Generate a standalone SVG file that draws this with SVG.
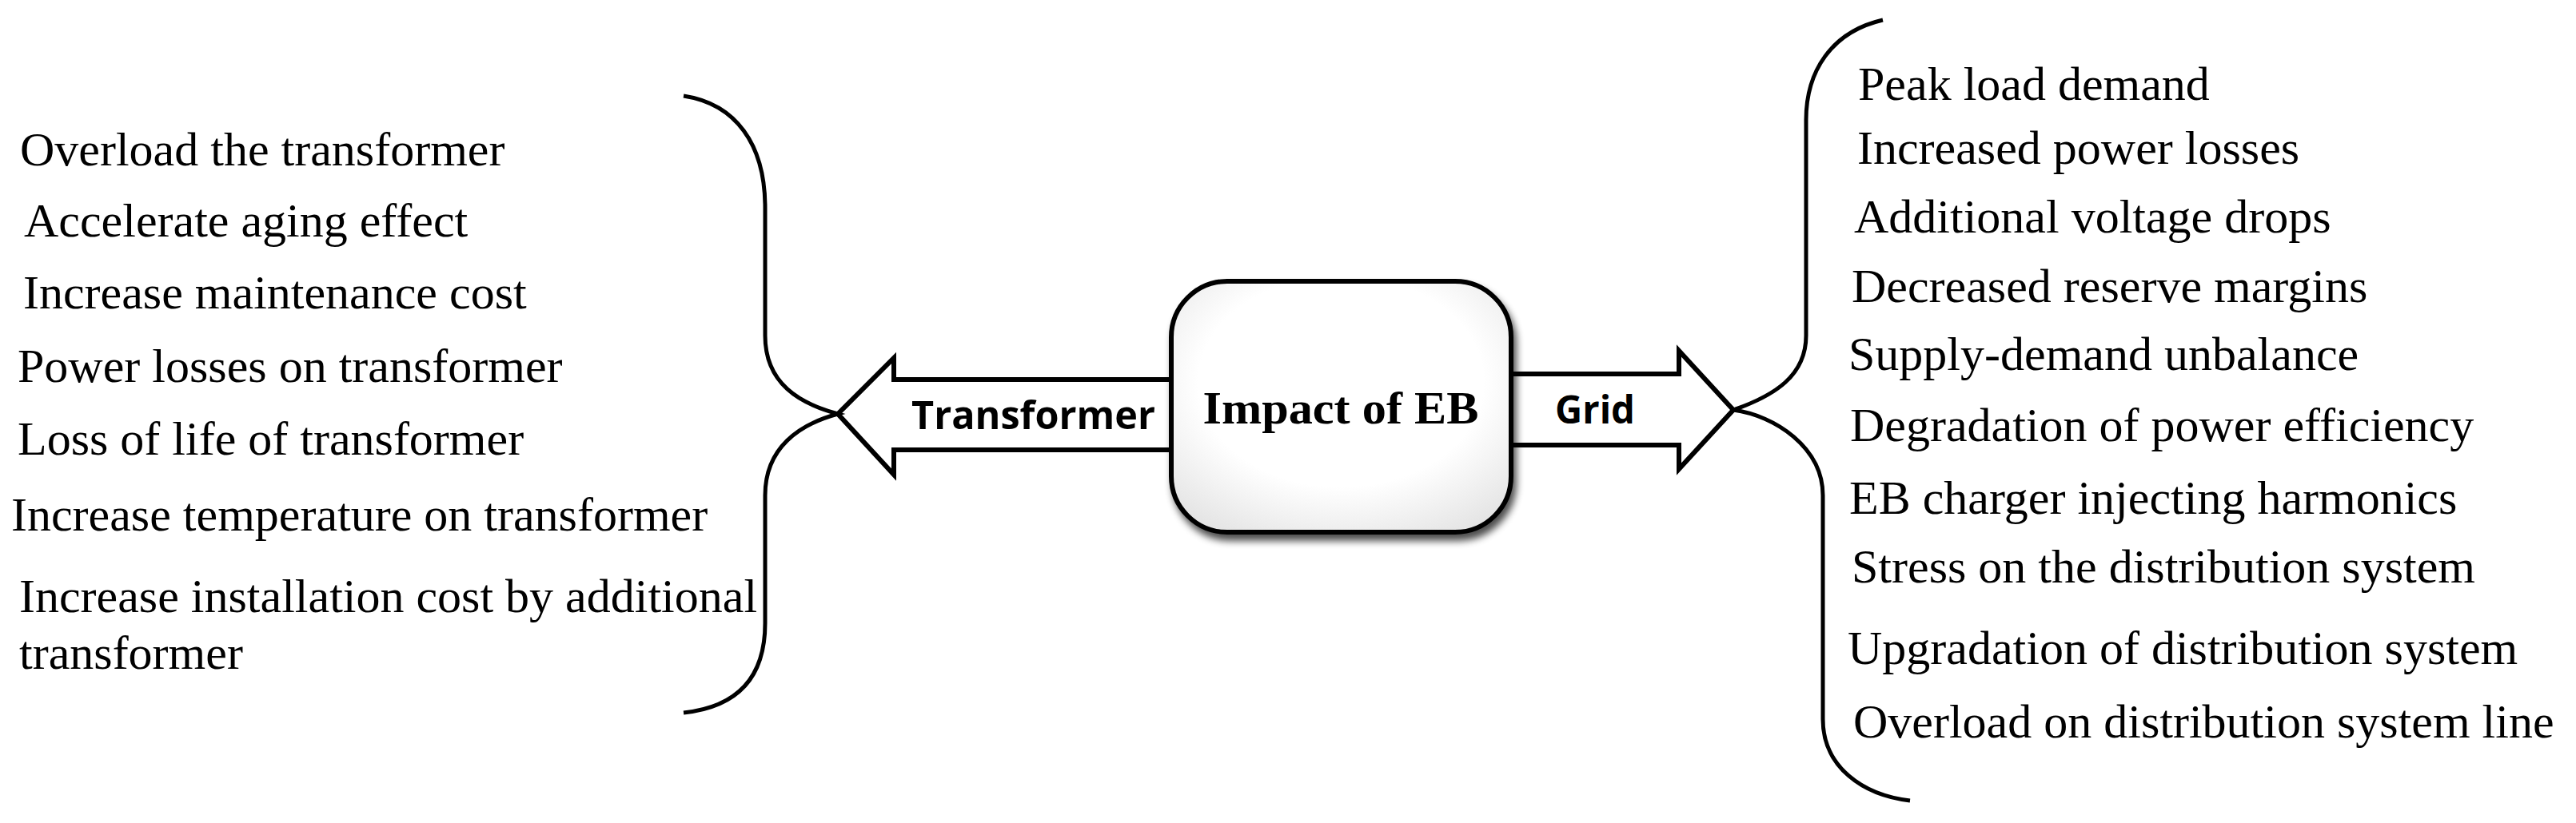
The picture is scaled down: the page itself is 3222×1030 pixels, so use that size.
<svg xmlns="http://www.w3.org/2000/svg" width="3222" height="1030" viewBox="0 0 3222 1030">
<style>
.t{font-family:"Liberation Serif",serif;fill:#000}
.l{font-size:60px}
.r{font-size:60px}
.ln{fill:none;stroke:#000;stroke-width:5}
.ar{fill:#fff;stroke:#000;stroke-width:6;stroke-linejoin:miter}
.lb{font-family:"Open Sans","Liberation Sans",sans-serif;font-weight:bold;font-size:48px}
</style>
<defs>
<filter id="sh" x="-10%" y="-10%" width="120%" height="125%">
<feGaussianBlur in="SourceAlpha" stdDeviation="5"/>
<feOffset dx="4" dy="8"/>
<feComponentTransfer><feFuncA type="linear" slope="0.7"/></feComponentTransfer>
<feMerge><feMergeNode/><feMergeNode in="SourceGraphic"/></feMerge>
</filter>
<radialGradient id="g" cx="50%" cy="40%" r="70%"><stop offset="0.6" stop-color="#fff"/><stop offset="1" stop-color="#e4e4e4"/></radialGradient>
</defs>
<g id="connectors">
<polygon class="ar" points="1470,475 1118,475 1118,448 1048,518 1118,594 1118,563 1470,563"/>
<polygon class="ar" points="1880,468 2100,468 2100,439 2168,513 2100,587 2100,557 1880,557"/>
<text class="lb" x="1140" y="537" textLength="305" lengthAdjust="spacingAndGlyphs">Transformer</text>
<text class="lb" x="1945" y="530" textLength="100" lengthAdjust="spacingAndGlyphs">Grid</text>
</g>
<g id="center">
<rect x="1465" y="352" width="425" height="314" rx="70" fill="url(#g)" stroke="#000" stroke-width="6" filter="url(#sh)"/>
<text class="t" x="1677" y="530" text-anchor="middle" font-weight="bold" font-size="56" textLength="345" lengthAdjust="spacingAndGlyphs">Impact of EB</text>
</g>
<g id="left-brace">
<path class="ln" d="M855,120 C920,130 957,180 957,260 L957,420 C957,480 1000,505 1048,518 C1000,531 957,560 957,620 L957,780 C957,850 920,885 855,892"/>
</g>
<g id="right-brace">
<path class="ln" d="M2355,25 C2290,40 2259,90 2259,150 L2259,420 C2259,470 2220,495 2168,513 C2220,520 2280,560 2280,620 L2280,900 C2280,960 2330,995 2389,1002"/>
</g>
<g id="transformer-items">
<text class="t l" x="25" y="207">Overload the transformer</text>
<text class="t l" x="30" y="296">Accelerate aging effect</text>
<text class="t l" x="29" y="386">Increase maintenance cost</text>
<text class="t l" x="22" y="478">Power losses on transformer</text>
<text class="t l" x="22" y="569">Loss of life of transformer</text>
<text class="t l" x="14" y="664">Increase temperature on transformer</text>
<text class="t l" x="24" y="766">Increase installation cost by additional</text>
<text class="t l" x="24" y="837">transformer</text>
</g>
<g id="grid-items">
<text class="t r" x="2324" y="125">Peak load demand</text>
<text class="t r" x="2323" y="205">Increased power losses</text>
<text class="t r" x="2319" y="291">Additional voltage drops</text>
<text class="t r" x="2316" y="378">Decreased reserve margins</text>
<text class="t r" x="2312" y="463">Supply-demand unbalance</text>
<text class="t r" x="2314" y="552">Degradation of power efficiency</text>
<text class="t r" x="2313" y="643">EB charger injecting harmonics</text>
<text class="t r" x="2316" y="729">Stress on the distribution system</text>
<text class="t r" x="2311" y="831">Upgradation of distribution system</text>
<text class="t r" x="2318" y="923">Overload on distribution system line</text>
</g>
</svg>
